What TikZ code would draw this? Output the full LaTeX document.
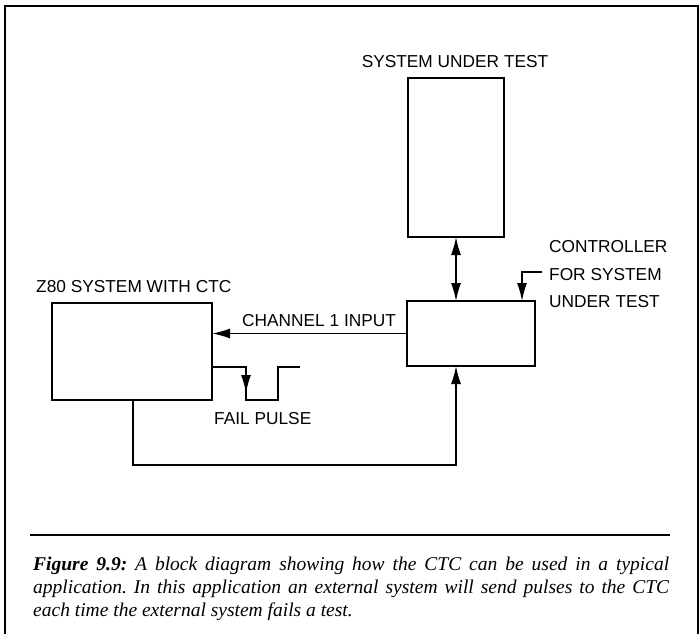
\documentclass[tikz,border=0pt]{standalone}
\usepackage{fontspec}
\setmainfont{Liberation Serif}
\newfontfamily\labelfont{Liberation Sans}
\usetikzlibrary{arrows.meta}
\frenchspacing
\begin{document}
\begin{tikzpicture}[x=1pt,y=-1pt,
  blk/.style={draw,line width=2.3pt,inner sep=0pt,outer sep=0pt},
  conn/.style={line width=1.5pt},
  arr/.style={conn,-{Latex[length=18pt,width=10pt]}},
  darr/.style={conn,{Latex[length=18pt,width=10pt]}-{Latex[length=18pt,width=10pt]}},
  lbl/.style={font=\labelfont\fontsize{17.3}{20}\selectfont,inner sep=0pt,anchor=base west},
  captext/.style={font=\fontsize{19.5}{23}\selectfont\itshape,inner sep=0pt,anchor=base west}]
\useasboundingbox (0,0) rectangle (700,634);
% frame
\draw[line width=2.2pt] (5,634) -- (5,6) -- (698,6) -- (698,634);
% blocks
\node[blk,minimum width=160pt,minimum height=97pt] (z80) at (132,351.5) {};
\node[blk,minimum width=128pt,minimum height=65pt] (ctrl) at (471,333.5) {};
\node[blk,minimum width=96pt,minimum height=159pt] (sut) at (456,157.5) {};
% labels
\node[lbl,anchor=base] (sutl) at (455,67) {SYSTEM UNDER TEST};
\node[lbl] (z80l) at (36,292) {Z80 SYSTEM WITH CTC};
\node[lbl] (chl) at (242,326) {CHANNEL 1 INPUT};
\node[lbl] (fpl) at (214,424) {FAIL PULSE};
\node[lbl] (ctl1) at (549,252) {CONTROLLER};
\node[lbl] (ctl2) at (549,280) {FOR SYSTEM};
\node[lbl] (ctl3) at (549,307) {UNDER TEST};
% connectors
\draw[darr] (sut.south) -- (sut.south |- ctrl.north);
\draw[arr] (ctrl.west) -- (ctrl.west -| z80.east);
\coordinate (b1) at (133,465);
\draw[arr] (z80.south -| b1) -- (b1) -- (b1 -| sut.south) -- (ctrl.south -| sut.south);
\coordinate (p1) at (542,272);
\coordinate (p2) at (522,272);
\draw[arr] (p1) -- (p2) -- (p2 |- ctrl.north);
% fail pulse
\coordinate (q0) at (212,367);
\coordinate (q1) at (246,367);
\coordinate (q2) at (246,400);
\coordinate (q3) at (278,400);
\coordinate (q4) at (278,367);
\coordinate (q5) at (300,367);
\coordinate (qa) at (246,393);
\draw[conn] (z80.east |- q0) -- (q1) -- (q2) -- (q3) -- (q4) -- (q5);
\draw[arr] (q1) -- (qa);
% caption
\draw[line width=2pt] (30,535) -- (670,535);
\node[captext] (c1) at (33,570) {\makebox[636pt][s]{\textbf{Figure 9.9:} A block diagram showing how the CTC can be used in a typical}};
\node[captext] (c2) at (33,593) {\makebox[636pt][s]{application. In this application an external system will send pulses to the CTC}};
\node[captext] (c3) at (33,616) {each time the external system fails a test.};
\end{tikzpicture}
\end{document}
